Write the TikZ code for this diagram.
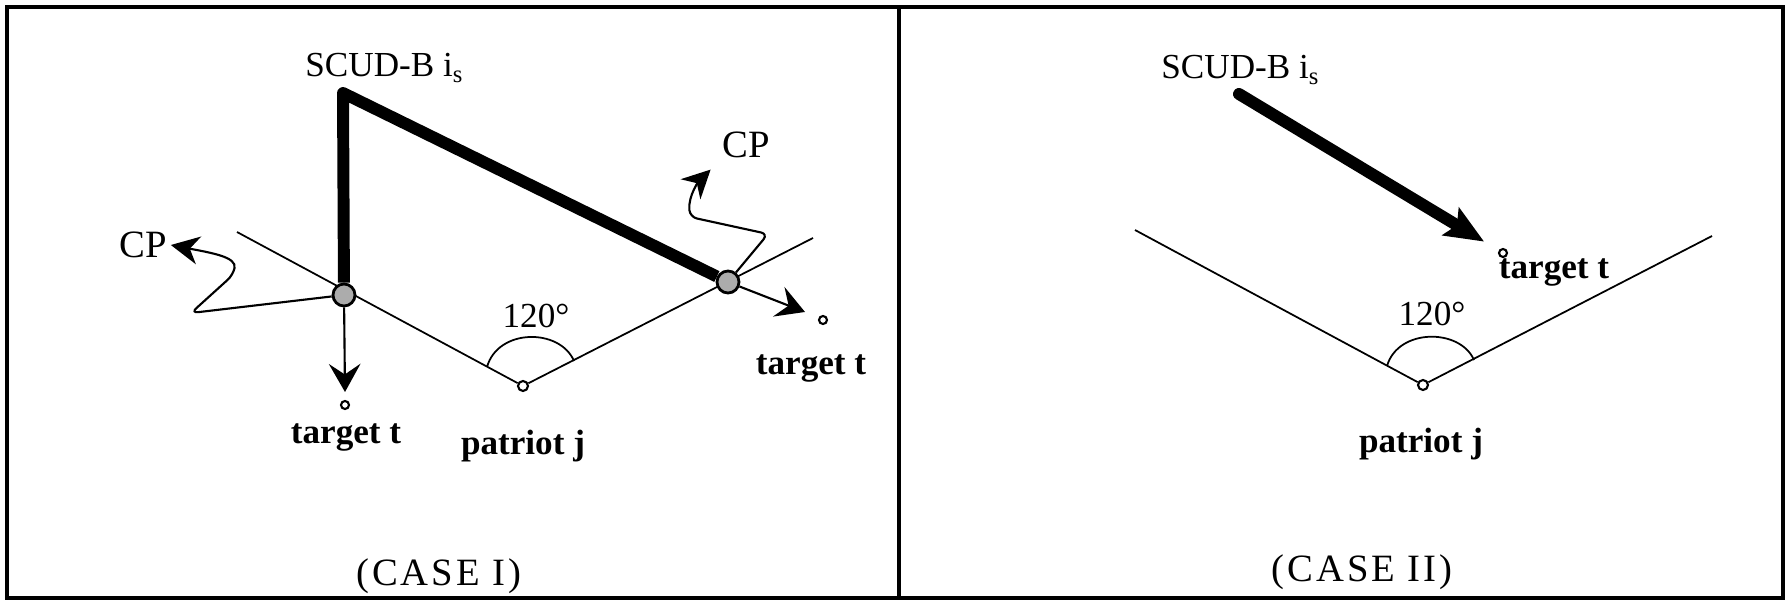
\documentclass[tikz,border=0pt]{standalone}
\usepackage{fontspec}
\setmainfont{Liberation Serif}
\usetikzlibrary{arrows.meta}

\begin{document}
\begin{tikzpicture}[
  font=\fontsize{10}{12}\selectfont,
  missile/.style={line width=3.4pt, line join=round},
  hitdot/.style={circle, draw, fill=gray!65, line width=0.8pt, minimum size=0.22cm, inner sep=0pt},
  site/.style={circle, draw, fill=white, line width=0.6pt, minimum size=0.1cm, inner sep=0pt},
  tgt/.style={circle, draw, fill=white, line width=0.6pt, minimum size=0.08cm, inner sep=0pt},
  boldlabel/.style={font=\fontsize{10}{12}\selectfont\bfseries},
  cplabel/.style={font=\fontsize{11}{13}\selectfont, inner sep=1pt},
  caselabel/.style={font=\fontsize{11}{13}\selectfont\addfontfeature{LetterSpace=8}},
  fan/.style={line width=0.5pt},
  tarrow/.style={line width=0.6pt, -{Stealth[length=8pt,width=9pt,inset=3pt]}},
  cparrow/.style={line width=0.6pt, rounded corners=2pt, -{Stealth[length=8pt,width=8pt,inset=2.5pt]}},
]
\useasboundingbox (0,0) rectangle (17.86,6);
\draw[line width=0.9pt] (0.07,0.02) rectangle (17.83,5.93);
\draw[line width=0.9pt] (8.99,0.02) -- (8.99,5.93);

% CASE I
\coordinate (vl1) at (2.37,3.68);
\coordinate (vr1) at (8.13,3.62);
\node[site] (pat1) at (5.23,2.14) {};
\draw[fan] (vl1) -- (pat1) -- (vr1);
\draw[fan] (4.87,2.33) .. controls (4.98,2.72) and (5.6,2.72) .. (5.74,2.39);
\node (ang1) at (5.36,2.84) {120°};
\node[boldlabel] (plab1) at (5.23,1.54) {patriot j};

\node[hitdot] (hit1) at (3.44,3.05) {};
\node[hitdot] (hit2) at (7.28,3.18) {};
\coordinate (top1) at (3.43,5.07);
\draw[missile] (hit1) -- (top1) -- (hit2);
\node (scud1) [anchor=base west] at (2.93,5.23) {SCUD-B i\textsubscript{s}};

\coordinate (tip1) at (3.45,2.08);
\draw[tarrow] (hit1) -- (tip1);
\node[tgt] (tgt1) at (3.45,1.95) {};
\node[boldlabel] (tlab1) at (3.46,1.63) {target t};

\coordinate (tip2) at (8.05,2.88);
\draw[tarrow] (hit2) -- (tip2);
\node[tgt] (tgt2) at (8.23,2.80) {};
\node[boldlabel] (tlab2) at (8.11,2.32) {target t};

\node[cplabel] (cp1) at (1.43,3.55) {CP};
\draw[cparrow] (hit1) -- (1.91,2.87) -- (2.33,3.25)
  .. controls (2.37,3.43) and (2.12,3.47) .. (cp1.east);
\node[cplabel] (cp2) at (7.46,4.55) {CP};
\draw[cparrow, shorten >=3pt] (hit2) -- (7.68,3.66) -- (6.90,3.83)
  .. controls (6.88,4.05) and (7.0,4.2) .. (cp2.south west);

\node[caselabel] (case1) at (4.39,0.24) {(CASE I)};

% CASE II
\coordinate (vl2) at (11.35,3.70);
\coordinate (vr2) at (17.12,3.64);
\node[site] (pat2) at (14.23,2.15) {};
\draw[fan] (vl2) -- (pat2) -- (vr2);
\draw[fan] (13.87,2.34) .. controls (13.98,2.72) and (14.6,2.72) .. (14.74,2.40);
\node (ang2) at (14.32,2.86) {120°};
\node[boldlabel] (plab2) at (14.21,1.56) {patriot j};

\node (scud2) [anchor=base west] at (11.49,5.21) {SCUD-B i\textsubscript{s}};
\node[tgt] (tgt3) at (15.03,3.47) {};
\coordinate (start2) at (12.39,5.06);
\draw[missile, line cap=round, shorten >=0.17cm, -{Stealth[length=11pt,width=9pt,inset=2pt]}] (start2) -- (tgt3);
\node[boldlabel] (tlab3) at (15.54,3.28) {target t};

\node[caselabel] (case2) at (13.62,0.28) {(CASE II)};
\end{tikzpicture}
\end{document}
